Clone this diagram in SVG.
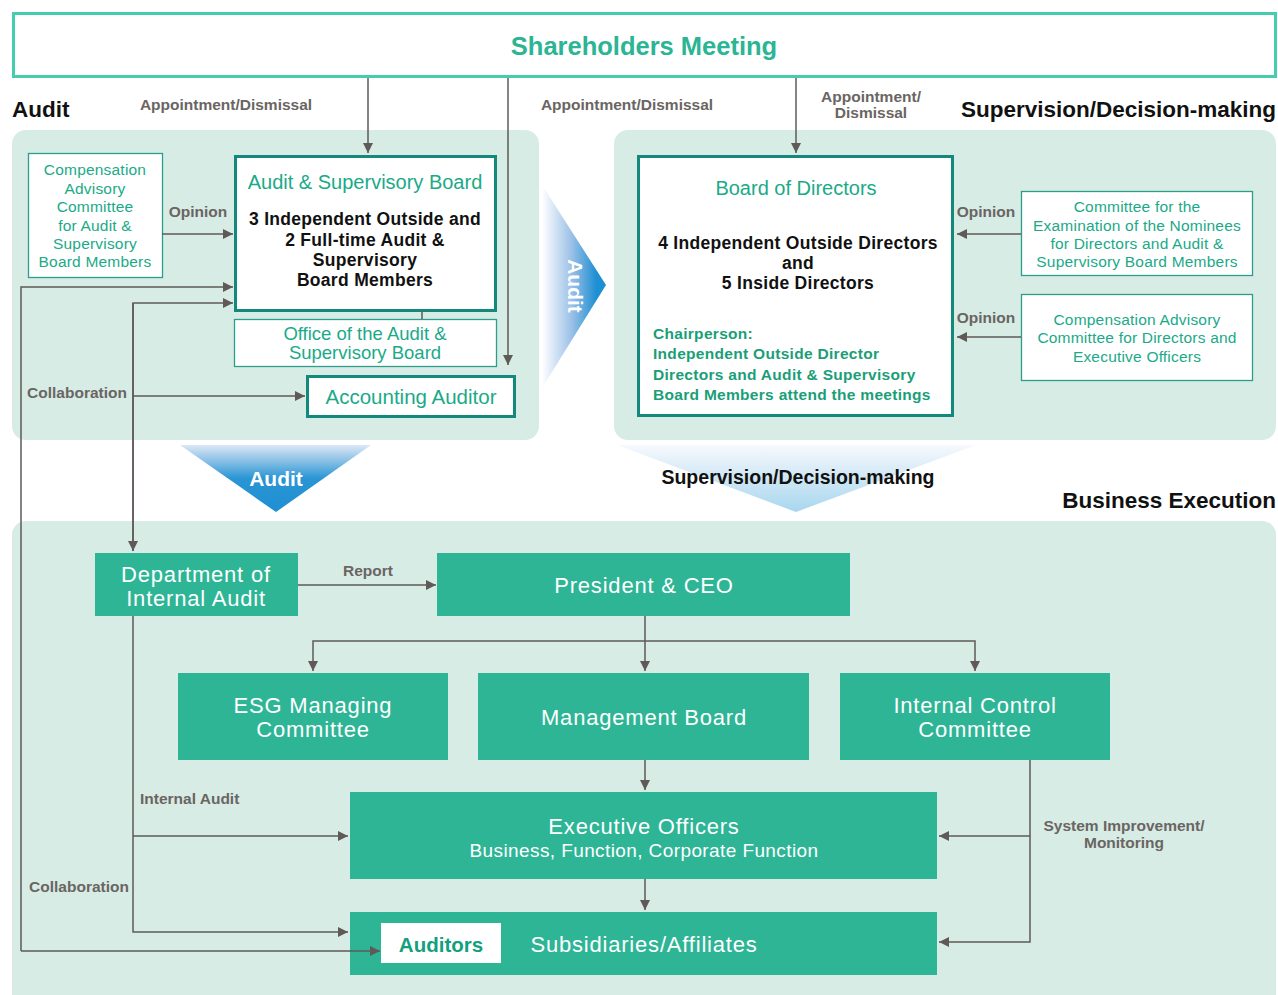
<svg xmlns="http://www.w3.org/2000/svg" width="1278" height="995" viewBox="0 0 1278 995">
<defs>
<marker id="ah" viewBox="0 0 10 10" refX="10" refY="5" markerWidth="10" markerHeight="10" markerUnits="userSpaceOnUse" orient="auto">
<path d="M0,0 L10,5 L0,10 Z" fill="#5f5a57"/>
</marker>
<linearGradient id="gRight" x1="0" y1="0" x2="1" y2="0">
<stop offset="0" stop-color="#ffffff"/>
<stop offset="0.45" stop-color="#9fc2e8"/>
<stop offset="0.85" stop-color="#1e8fd2"/>
</linearGradient>
<linearGradient id="gDown" x1="0" y1="0" x2="0" y2="1">
<stop offset="0" stop-color="#dde7f5"/>
<stop offset="0.5" stop-color="#2a95d4"/>
<stop offset="1" stop-color="#1e8fd2"/>
</linearGradient>
<linearGradient id="gDown2" x1="0" y1="0" x2="0" y2="1">
<stop offset="0" stop-color="#f6f9fd"/>
<stop offset="1" stop-color="#a8d6ee"/>
</linearGradient>
<style>
text{font-family:"Liberation Sans",Arial,sans-serif}
.panel{fill:#d7ece5}
.thick{fill:#fff;stroke:#12897c;stroke-width:3}
.thin{fill:#fff;stroke:#2a9e8a;stroke-width:1.3}
.tbox{fill:#2db596}
.ttl{fill:#1aaa88;font-size:20px;text-anchor:middle}
.sm{fill:#1aaa88;font-size:15.5px;text-anchor:middle;letter-spacing:0.2px}
.blk{fill:#111;font-size:17.5px;font-weight:bold;text-anchor:middle;letter-spacing:0.3px}
.grn{fill:#1a9e78;font-size:15.5px;font-weight:bold;letter-spacing:0.3px}
.lbl{fill:#6a6562;font-size:15.5px;font-weight:bold}
.hdr{fill:#111;font-size:22.5px;font-weight:bold}
.wt{fill:#fff;font-size:22px;text-anchor:middle;letter-spacing:0.8px}
.ln{fill:none;stroke:#5f5a57;stroke-width:1.5}
.arr{marker-end:url(#ah)}
</style>
</defs>

<!-- panels -->
<g id="panels">
<rect class="panel" x="12" y="130" width="527" height="310" rx="14"/>
<rect class="panel" x="614" y="130" width="662" height="310" rx="14"/>
<rect class="panel" x="12" y="521" width="1264" height="490" rx="14"/>
</g>

<!-- headers -->
<g id="headers">
<text class="hdr" x="12" y="117">Audit</text>
<text class="hdr" x="1276" y="117" text-anchor="end">Supervision/Decision-making</text>
<text class="hdr" x="1276" y="508" text-anchor="end">Business Execution</text>
</g>

<!-- big arrows -->
<g id="big-arrows">
<polygon points="542,185 606,285 542,388" fill="url(#gRight)"/>
<text x="0" y="0" transform="translate(568,286) rotate(90)" fill="#fff" font-size="21" font-weight="bold" text-anchor="middle">Audit</text>
<polygon points="180,445 371,445 276,512" fill="url(#gDown)"/>
<text x="276" y="486" fill="#fff" font-size="21" font-weight="bold" text-anchor="middle">Audit</text>
<polygon points="617,445 976,445 796,512" fill="url(#gDown2)"/>
<text x="798" y="484" fill="#111" font-size="19.5" font-weight="bold" text-anchor="middle">Supervision/Decision-making</text>
</g>

<!-- connector labels -->
<g id="labels">
<text class="lbl" x="226" y="110" text-anchor="middle">Appointment/Dismissal</text>
<text class="lbl" x="627" y="110" text-anchor="middle">Appointment/Dismissal</text>
<text class="lbl" x="871" y="102" text-anchor="middle">Appointment/</text>
<text class="lbl" x="871" y="118" text-anchor="middle">Dismissal</text>
<text class="lbl" x="198" y="217" text-anchor="middle">Opinion</text>
<text class="lbl" x="986" y="217" text-anchor="middle">Opinion</text>
<text class="lbl" x="986" y="323" text-anchor="middle">Opinion</text>
<text class="lbl" x="77" y="398" text-anchor="middle">Collaboration</text>
<text class="lbl" x="79" y="892" text-anchor="middle">Collaboration</text>
<text class="lbl" x="368" y="576" text-anchor="middle">Report</text>
<text class="lbl" x="140" y="804">Internal Audit</text>
<text class="lbl" x="1124" y="831" text-anchor="middle">System Improvement/</text>
<text class="lbl" x="1124" y="848" text-anchor="middle">Monitoring</text>
</g>

<g id="shareholders">
<rect x="13.5" y="13.5" width="1262" height="63" fill="#fff" stroke="#45cdb0" stroke-width="3"/>
<text x="644" y="55" fill="#2bb594" font-size="25.5" font-weight="bold" text-anchor="middle">Shareholders Meeting</text>
</g>

<g id="comp-audit">
<rect class="thin" x="28.5" y="153.5" width="134" height="124"/>
<text class="sm" x="95" y="175">Compensation</text>
<text class="sm" x="95" y="194">Advisory</text>
<text class="sm" x="95" y="212">Committee</text>
<text class="sm" x="95" y="231">for Audit &amp;</text>
<text class="sm" x="95" y="249">Supervisory</text>
<text class="sm" x="95" y="267">Board Members</text>
</g>

<g id="asb">
<rect class="thick" x="235.5" y="156.5" width="260" height="154"/>
<text class="ttl" x="365" y="189">Audit &amp; Supervisory Board</text>
<text class="blk" x="365" y="225">3 Independent Outside and</text>
<text class="blk" x="365" y="246">2 Full-time Audit &amp;</text>
<text class="blk" x="365" y="266">Supervisory</text>
<text class="blk" x="365" y="286">Board Members</text>
</g>

<g id="office">
<rect class="thin" x="234.5" y="319.5" width="262" height="47"/>
<text class="ttl" x="365" y="340" style="font-size:18.5px">Office of the Audit &amp;</text>
<text class="ttl" x="365" y="359" style="font-size:18.5px">Supervisory Board</text>
</g>

<g id="accounting">
<rect class="thick" x="307.5" y="376.5" width="207" height="40"/>
<text class="ttl" x="411" y="404" style="font-size:20.5px">Accounting Auditor</text>
</g>

<g id="bod">
<rect class="thick" x="638.5" y="156.5" width="314" height="259"/>
<text class="ttl" x="796" y="195">Board of Directors</text>
<text class="blk" x="798" y="249">4 Independent Outside Directors</text>
<text class="blk" x="798" y="269">and</text>
<text class="blk" x="798" y="289">5 Inside Directors</text>
<text class="grn" x="653" y="339">Chairperson:</text>
<text class="grn" x="653" y="359">Independent Outside Director</text>
<text class="grn" x="653" y="380">Directors and Audit &amp; Supervisory</text>
<text class="grn" x="653" y="400">Board Members attend the meetings</text>
</g>

<g id="nominee">
<rect class="thin" x="1021.5" y="191.5" width="231" height="84"/>
<text class="sm" x="1137" y="212">Committee for the</text>
<text class="sm" x="1137" y="231">Examination of the Nominees</text>
<text class="sm" x="1137" y="249">for Directors and Audit &amp;</text>
<text class="sm" x="1137" y="267">Supervisory Board Members</text>
</g>

<g id="comp-dir">
<rect class="thin" x="1021.5" y="294.5" width="231" height="86"/>
<text class="sm" x="1137" y="325">Compensation Advisory</text>
<text class="sm" x="1137" y="343">Committee for Directors and</text>
<text class="sm" x="1137" y="362">Executive Officers</text>
</g>

<g id="dia">
<rect class="tbox" x="95" y="553" width="203" height="63"/>
<text class="wt" x="196" y="582">Department of</text>
<text class="wt" x="196" y="606">Internal Audit</text>
</g>

<g id="ceo">
<rect class="tbox" x="437" y="553" width="413" height="63"/>
<text class="wt" x="644" y="593">President &amp; CEO</text>
</g>

<g id="esg">
<rect class="tbox" x="178" y="673" width="270" height="87"/>
<text class="wt" x="313" y="713">ESG Managing</text>
<text class="wt" x="313" y="737">Committee</text>
</g>

<g id="mgmt">
<rect class="tbox" x="478" y="673" width="331" height="87"/>
<text class="wt" x="644" y="725">Management Board</text>
</g>

<g id="icc">
<rect class="tbox" x="840" y="673" width="270" height="87"/>
<text class="wt" x="975" y="713">Internal Control</text>
<text class="wt" x="975" y="737">Committee</text>
</g>

<g id="exec">
<rect class="tbox" x="350" y="792" width="587" height="87"/>
<text class="wt" x="644" y="834">Executive Officers</text>
<text class="wt" x="644" y="857" style="font-size:19px;letter-spacing:0.4px">Business, Function, Corporate Function</text>
</g>

<g id="subs">
<rect class="tbox" x="350" y="912" width="587" height="63"/>
<rect x="381" y="923" width="120" height="40" fill="#fff"/>
<text x="441" y="952" fill="#12a07e" font-size="20.5" font-weight="bold" text-anchor="middle">Auditors</text>
<text class="wt" x="644" y="952">Subsidiaries/Affiliates</text>
</g>

<!-- connectors -->
<g id="connectors">
<line class="ln arr" x1="368" y1="78" x2="368" y2="153"/>
<line class="ln arr" x1="508" y1="78" x2="508" y2="365"/>
<line class="ln arr" x1="796" y1="78" x2="796" y2="153"/>
<line class="ln arr" x1="162" y1="234" x2="233" y2="234"/>
<line class="ln" x1="422" y1="311" x2="422" y2="319"/>
<polyline class="ln arr" points="21,951 21,287 233,287"/>
<line class="ln arr" x1="21" y1="951" x2="380" y2="951"/>
<polyline class="ln arr" points="133,551 133,303 233,303"/>
<line class="ln arr" x1="133" y1="303" x2="133" y2="551"/>
<line class="ln arr" x1="133" y1="396" x2="305" y2="396"/>
<line class="ln arr" x1="1021" y1="234" x2="957" y2="234"/>
<line class="ln arr" x1="1021" y1="337" x2="957" y2="337"/>
<line class="ln arr" x1="298" y1="585" x2="436" y2="585"/>
<line class="ln arr" x1="645" y1="616" x2="645" y2="671"/>
<polyline class="ln arr" points="645,641 313,641 313,671"/>
<polyline class="ln arr" points="645,641 975,641 975,671"/>
<line class="ln arr" x1="645" y1="760" x2="645" y2="790"/>
<line class="ln arr" x1="645" y1="879" x2="645" y2="910"/>
<polyline class="ln arr" points="133,616 133,932 348,932"/>
<line class="ln arr" x1="133" y1="836" x2="348" y2="836"/>
<polyline class="ln arr" points="1030,760 1030,942 939,942"/>
<line class="ln arr" x1="1030" y1="836" x2="939" y2="836"/>
</g>
</svg>
